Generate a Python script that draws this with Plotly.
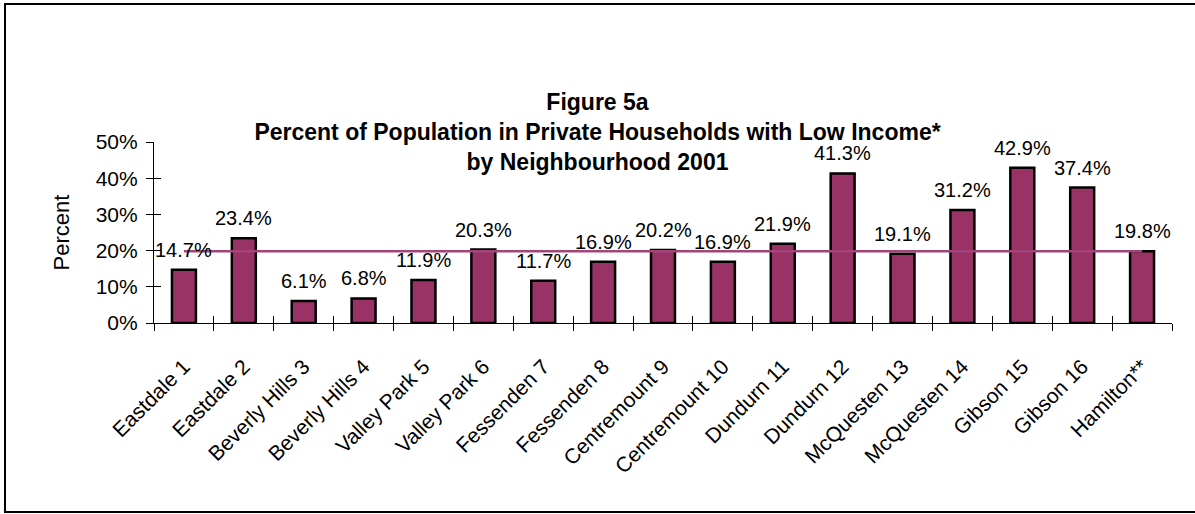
import plotly.graph_objects as go

categories = ["Eastdale 1", "Eastdale 2", "Beverly Hills 3", "Beverly Hills 4", "Valley Park 5",
              "Valley Park 6", "Fessenden 7", "Fessenden 8", "Centremount 9", "Centremount 10",
              "Dundurn 11", "Dundurn 12", "McQuesten 13", "McQuesten 14", "Gibson 15",
              "Gibson 16", "Hamilton**"]
values = [14.7, 23.4, 6.1, 6.8, 11.9, 20.3, 11.7, 16.9, 20.2, 16.9, 21.9, 41.3, 19.1, 31.2, 42.9, 37.4, 19.8]
hamilton_avg = 19.8
y_ticks = [0, 10, 20, 30, 40, 50]
y_ticklabels = ["0%", "10%", "20%", "30%", "40%", "50%"]

W, H = 1195, 514
ML, MR, MT, MB = 154, 23, 142, 191
FONT = "Liberation Sans, Arial, sans-serif"
BAR = "#993366"
LINE = "#A3457A"

fig = go.Figure()
fig.add_trace(go.Bar(x=categories, y=values, width=0.4,
                     marker=dict(color=BAR, line=dict(color="black", width=2.5)),
                     showlegend=False, hoverinfo="x+y"))
fig.add_trace(go.Scatter(x=categories, y=[hamilton_avg] * len(categories), mode="lines",
                         line=dict(color=LINE, width=2.5), xaxis="x2", yaxis="y2",
                         showlegend=False))

for c, v in zip(categories, values):
    fig.add_annotation(x=c, y=v, text=f"{v:.1f}%", showarrow=False, yanchor="middle",
                       yshift=20, font=dict(size=20, color="black", family=FONT))

pw = W - ML - MR
ph = H - MT - MB
fig.add_shape(type="rect", xref="paper", yref="paper",
              x0=(5 - ML) / pw, x1=(W + 5 - ML) / pw,
              y0=(H - MB - 512) / ph, y1=(H - MB - 4) / ph,
              line=dict(color="black", width=2), fillcolor="rgba(0,0,0,0)", layer="below")

fig.update_layout(
    width=W, height=H,
    margin=dict(l=ML, r=MR, t=MT, b=MB, pad=0),
    paper_bgcolor="white", plot_bgcolor="white",
    font=dict(family=FONT, size=20, color="black"),
    title=dict(text="<b>Figure 5a<br>Percent of Population in Private Households with Low Income*<br>by Neighbourhood 2001</b>",
               x=0.5, xref="container", xanchor="center",
               y=1 - 110 / H, yref="container", yanchor="top",
               font=dict(size=23, family=FONT, color="black")),
    xaxis=dict(type="category", categoryorder="array", categoryarray=categories,
               range=[-0.5, len(categories) - 0.5],
               showline=True, linecolor="black", linewidth=1.2,
               ticks="outside", ticklen=7, tickcolor="black", tickson="boundaries",
               tickangle=-45, tickfont=dict(size=21), showgrid=False, zeroline=False,
               ticklabelstandoff=22),
    xaxis2=dict(type="category", categoryorder="array", categoryarray=categories,
                overlaying="x", anchor="y2", matches="x",
                showline=False, ticks="inside", ticklen=7, tickcolor="black",
                tickson="boundaries", showticklabels=False, showgrid=False, zeroline=False),
    yaxis=dict(range=[0, 50], tickvals=y_ticks, ticktext=y_ticklabels,
               showline=True, linecolor="black", linewidth=1.2,
               ticks="outside", ticklen=7, tickcolor="black",
               showgrid=False, zeroline=False, tickfont=dict(size=21),
               ticklabelstandoff=4,
               title=dict(text="Percent", font=dict(size=22), standoff=19)),
    yaxis2=dict(range=[0, 50], overlaying="y", anchor="x", matches="y",
                tickvals=y_ticks, ticks="inside", ticklen=7, tickcolor="black",
                showticklabels=False, showgrid=False, zeroline=False, showline=False),
)

fig.write_html("out.html", config={"displayModeBar": False},
               post_script="document.body.style.margin='0';")
